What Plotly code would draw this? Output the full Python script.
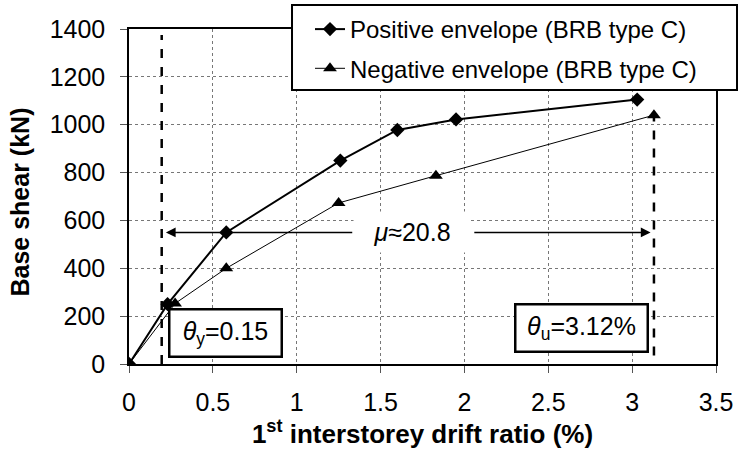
import plotly.graph_objects as go

# Data
pos_x = [0, 0.23, 0.58, 1.26, 1.60, 1.95, 3.03]
pos_y = [0, 250, 550, 850, 978, 1022, 1105]
neg_x = [0, 0.275, 0.58, 1.25, 1.83, 3.13]
neg_y = [0, 253, 400, 673, 787, 1040]

theta_y_line = 0.195
theta_u_line = 3.13
mu_y = 550

x_ticks = [0, 0.5, 1, 1.5, 2, 2.5, 3, 3.5]
y_ticks = [0, 200, 400, 600, 800, 1000, 1200, 1400]

FONT = "Liberation Sans, Arial, sans-serif"

fig = go.Figure()

fig.add_trace(go.Scatter(
    x=pos_x, y=pos_y, mode="lines+markers", name="Positive envelope (BRB type C)",
    line=dict(color="black", width=2),
    marker=dict(symbol="diamond", size=11, color="black"),
    legendgroup="a",
))
fig.add_trace(go.Scatter(
    x=neg_x, y=neg_y, mode="lines+markers", name="Negative envelope (BRB type C)",
    line=dict(color="black", width=1),
    marker=dict(symbol="triangle-up", size=12, color="black"),
    legendgroup="b",
))

# dashed vertical lines
fig.add_shape(type="line", x0=theta_y_line, x1=theta_y_line, y0=0, y1=1375,
              line=dict(color="black", width=2.5, dash="dash"), layer="above")
fig.add_shape(type="line", x0=theta_u_line, x1=theta_u_line, y0=-40, y1=1030,
              line=dict(color="black", width=2.5, dash="dash"), layer="above")

# legend frame (drawn as a box behind the legend entries)
fig.add_shape(type="rect", xref="paper", yref="paper",
              x0=0.2777, x1=1.0358, y0=0.8179, y1=1.0716,
              line=dict(color="black", width=2), fillcolor="white", layer="above")

# arrows
fig.add_annotation(x=0.22, y=mu_y, ax=1.34, ay=mu_y, xref="x", yref="y", axref="x", ayref="y",
                   text="", showarrow=True, arrowhead=2, arrowsize=1.3, arrowwidth=1.5, arrowcolor="black")
fig.add_annotation(x=3.11, y=mu_y, ax=2.05, ay=mu_y, xref="x", yref="y", axref="x", ayref="y",
                   text="", showarrow=True, arrowhead=2, arrowsize=1.3, arrowwidth=1.5, arrowcolor="black")
fig.add_annotation(x=1.69, y=mu_y, text="<i>μ</i>≈20.8", showarrow=False,
                   font=dict(size=25, color="black", family=FONT), bgcolor="white",
                   width=114, height=38)

# text boxes
fig.add_annotation(x=0.578, y=131, text="<i>θ</i><sub>y</sub>=0.15", showarrow=False,
                   font=dict(size=25, color="black", family=FONT), bgcolor="white",
                   bordercolor="black", borderwidth=2.5, width=108, height=43)
fig.add_annotation(x=2.70, y=150, text="<i>θ</i><sub>u</sub>=3.12%", showarrow=False,
                   font=dict(size=25, color="black", family=FONT), bgcolor="white",
                   bordercolor="black", borderwidth=2.5, width=128, height=43)

# y-axis title
fig.add_annotation(xref="paper", yref="paper", x=-0.1857, y=0.485,
                   text="<b>Base shear (kN)</b>", textangle=-90, showarrow=False,
                   xanchor="center", yanchor="middle",
                   font=dict(size=25, color="black", family=FONT))

axis_common = dict(
    showline=True, linecolor="black", linewidth=1.5, mirror=True,
    ticks="outside", ticklen=7, tickcolor="#555", tickwidth=1,
    showgrid=True, gridcolor="#777", griddash="dot", gridwidth=1,
    zeroline=False, tickfont=dict(size=25, color="black", family=FONT),
    automargin=False,
)

fig.update_xaxes(range=[0, 3.5], tickvals=x_ticks, ticktext=[str(v) for v in x_ticks],
                 ticklabelstandoff=8,
                 title=dict(text="<b>1<sup>st</sup> interstorey drift ratio (%)</b>",
                            font=dict(size=26, color="black", family=FONT), standoff=4),
                 **axis_common)
fig.update_yaxes(range=[0, 1400], tickvals=y_ticks, ticklabelstandoff=10,
                 **axis_common)

fig.update_layout(
    width=738, height=455,
    margin=dict(l=129, r=22, t=29, b=91, autoexpand=False),
    plot_bgcolor="white", paper_bgcolor="white",
    font=dict(family=FONT, color="black"),
    legend=dict(xref="container", yref="container",
                x=310 / 738, xanchor="left", y=0.9846, yanchor="top",
                bgcolor="rgba(0,0,0,0)", borderwidth=0,
                font=dict(size=24, color="black", family=FONT),
                tracegroupgap=5),
    showlegend=True,
)

fig.write_html("out.html")
